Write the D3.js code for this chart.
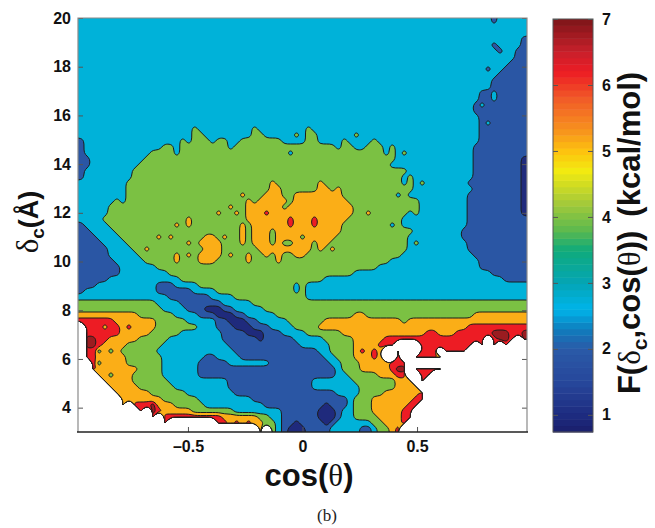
<!DOCTYPE html>
<html>
<head>
<meta charset="utf-8">
<script src="https://cdn.jsdelivr.net/npm/d3@7"></script>
<style>
  html, body { margin: 0; padding: 0; background: #fff; }
  svg { display: block; }
</style>
</head>
<body>
<div id="chart"></div>
<script>
var w = 655, h = 528;

var cosTicks = [-0.5, 0, 0.5];
var deltaTicks = [4, 6, 8, 10, 12, 14, 16, 18, 20];
var barTicks = [1, 2, 3, 4, 5, 6, 7];

// energy band of every contour, and its fill
var bandLevels = [0.5, 1.5, 2.5, 3.5, 4.5, 5.5, 6.5];
var bandColors = ['#1f2a7c', '#2a56a4', '#00b2d9', '#7bc143', '#fbae17', '#ed1c24', '#9b1c20'];

// colorbar colormap
var barValues = [0.74, 1, 1.5, 2, 2.3, 2.6, 3, 3.5, 3.8, 4.2, 4.7, 5, 5.3, 5.8, 6.2, 6.5, 7];
var barColors = ['#1b1f6b', '#1d2c80', '#27479b', '#2a5aa8', '#0f7dbd', '#00b4ea', '#04a5b5', '#10ab7a',
  '#5cb94e', '#a3c93a', '#f2ea10', '#fdc20f', '#f7941d', '#f15a28', '#ed1c24', '#c8202b', '#7d1518'];

// F, one row per delta_c from 20 down to 3, 75 cells each.
// each row is value, end cell, value, end cell... null is the white no-data part
var energyRuns = [
  [3,75],
  [3,75],
  [3,75],
  [3,74,2,75],
  [3,74,2,75],
  [3,73,2,75],
  [3,73,2,75],
  [3,72,2,75],
  [3,71,2,75],
  [3,70,2,75],
  [3,69,2,75],
  [3,69,2,75],
  [3,67,2,69,3,70,2,75],
  [3,67,2,69,3,70,2,75],
  [3,66,2,67,3,68,2,75],
  [3,66,2,75],
  [3,67,2,75],
  [3,67,2,68,3,69,2,75],
  [3,19,4,20,3,29,4,30,3,38,4,39,3,67,2,75],
  [3,19,4,21,3,29,4,31,3,36,4,37,3,38,4,40,3,67,2,75],
  [2,1,3,17,4,18,3,19,4,22,3,23,4,25,3,27,4,34,3,38,4,40,3,44,4,45,3,49,4,50,3,67,2,75],
  [2,1,3,14,4,16,3,17,4,25,3,26,4,43,3,44,4,46,3,48,4,51,3,52,4,53,3,66,2,75],
  [2,1,3,12,4,16,3,17,4,51,3,52,4,53,3,66,2,75],
  [2,2,3,11,4,53,3,66,2,74,1,75],
  [2,2,3,10,4,53,3,66,2,74,1,75],
  [2,1,3,9,4,55,3,66,2,74,1,75],
  [2,1,3,9,4,54,3,55,4,56,3,66,2,74,1,75],
  [3,8,4,32,5,33,4,40,5,41,4,54,3,55,4,56,3,65,2,74,1,75],
  [3,8,4,32,5,34,4,40,5,42,4,43,5,44,4,56,3,66,2,74,1,75],
  [3,8,4,31,5,34,4,36,5,44,4,55,3,65,2,74,1,75],
  [3,8,4,30,5,35,4,36,5,45,4,57,3,65,2,74,1,75],
  [3,5,4,28,5,34,4,35,5,46,4,57,3,65,2,74,1,75],
  [3,5,4,28,5,31,6,32,5,46,4,55,3,65,2,74,1,75],
  [3,4,4,28,5,35,6,36,5,39,6,40,5,45,4,54,3,65,2,75],
  [2,1,3,5,4,29,5,35,6,36,5,39,6,40,5,44,4,54,3,65,2,75],
  [2,2,3,6,4,29,5,32,4,33,5,44,4,56,3,64,2,75],
  [2,3,3,7,4,21,5,23,4,29,5,32,4,33,5,37,4,38,5,43,4,55,3,64,2,75],
  [2,4,3,8,4,20,5,24,4,29,5,32,4,33,5,34,4,36,5,39,4,40,5,42,4,55,3,65,2,75],
  [2,5,3,9,4,21,5,24,4,30,5,39,4,40,5,41,4,42,5,43,4,55,3,65,2,75],
  [2,5,3,10,4,20,5,24,4,33,5,34,4,36,5,38,4,54,3,66,2,75],
  [2,6,3,11,4,20,5,23,4,52,3,67,2,75],
  [2,7,3,13,4,50,3,67,2,75],
  [2,7,3,15,4,46,3,69,2,75],
  [2,5,3,17,4,41,3,71,2,75],
  [2,3,3,13,2,16,3,20,4,36,3,37,4,38,3,75],
  [2,1,3,13,2,19,3,23,4,36,3,37,4,38,3,75],
  [3,15,2,22,3,26,4,38,3,75],
  [4,13,3,17,2,24,3,29,4,75],
  [4,14,3,18,2,21,1,24,2,26,3,31,4,75],
  [5,10,4,16,3,20,2,23,1,26,2,28,3,33,4,46,5,48,4,66,5,75],
  [6,6,5,13,4,18,3,23,2,25,1,28,2,30,3,35,4,41,5,54,4,55,5,75],
  [null,1,6,7,5,13,4,20,3,23,2,26,1,29,2,32,3,36,4,40,5,65,6,75],
  [null,1,6,7,5,12,4,17,3,24,2,28,1,31,2,34,3,38,4,44,5,58,6,60,5,63,6,69,7,72,6,74,7,75],
  [null,1,7,3,6,5,5,10,4,15,3,24,2,30,1,31,2,36,3,41,4,46,5,51,6,68,null,69,6,70,7,72,6,73,null,74,7,75],
  [null,1,7,3,6,4,5,8,4,14,3,25,2,37,3,42,4,46,5,50,6,53,null,57,6,66,null,67,6,68,null,69,6,70,null,71,6,72,null,75],
  [null,1,6,3,5,8,4,13,3,26,2,40,3,42,4,46,5,47,6,48,5,49,6,50,5,51,null,53,6,54,null,57,6,60,null,61,6,65,null,75],
  [null,1,6,3,5,8,4,14,3,21,2,23,3,27,2,41,3,43,4,46,5,49,6,50,5,51,null,53,6,54,null,56,6,60,5,61,null,75],
  [null,2,6,3,5,8,4,14,3,20,2,25,3,32,2,42,3,44,4,47,5,52,6,55,null,75],
  [null,2,6,3,5,10,4,14,3,20,2,43,3,44,4,47,5,52,6,53,7,55,null,56,6,61,null,75],
  [null,3,5,9,4,14,3,20,2,43,3,45,4,50,5,53,6,55,null,57,6,59,null,75],
  [null,4,5,9,4,15,3,25,2,39,3,46,4,53,5,56,null,57,6,58,null,75],
  [null,5,5,10,4,16,3,25,2,39,3,47,4,53,5,57,null,75],
  [null,6,5,12,4,18,3,26,2,43,3,47,4,51,5,57,6,58,null,75],
  [null,7,5,14,4,20,3,29,2,45,3,46,4,49,5,56,6,58,null,75],
  [null,9,6,13,5,16,4,21,3,31,2,41,1,42,2,45,3,46,4,49,5,55,6,57,null,75],
  [null,12,6,14,5,19,4,26,3,34,2,40,1,43,2,44,3,46,4,49,5,54,6,56,null,75],
  [null,14,6,24,5,30,4,32,3,34,2,40,1,43,2,44,3,46,4,50,5,54,6,56,null,75],
  [null,23,6,25,5,26,6,27,5,28,6,29,5,31,4,33,3,34,2,36,1,37,2,41,1,42,2,43,3,49,4,51,5,54,6,55,null,75],
  [null,30,5,31,null,32,4,33,3,34,2,35,1,38,2,42,3,47,2,49,3,50,4,52,5,53,6,54,null,75]
];

// single cells that stick out of the rows above: row, cell, value
var energySpots = [
  [0,69,2],[4,69,2],[5,70,2],[8,68,2],
  [19,46,4],[22,54,4],[27,57,4],[30,6,4],[32,56,4],[37,56,4],
  [22,35,3],[24,52,3],[29,53,3],[34,52,3],
  [29,27,5],[30,28,5],[31,25,5],[32,23,5],[32,26,5],[32,48,5],
  [33,18,5],[34,18,5],[34,16,5],[34,27,5],[35,27,5],[36,27,5],[37,27,5],
  [36,13,5],[36,15,5],[36,24,5],[37,18,5],[38,11,5],
  [39,16,5],[40,16,5],[39,18,5],[39,25,5],[39,28,5],[40,28,5],[39,31,5],[40,33,5],
  [55,3,4],[55,5,4],[55,7,4],[57,3,4],[59,5,4],
  [51,4,5],[51,8,6],
  [64,7,5],[65,10,6],[66,12,6],[67,14,6],[64,12,7],[65,12,7]
];

var nCols = 75, nRows = energyRuns.length;

// expand the runs, with one repeated cell all round so the outer contour falls outside the axes
function buildGrid() {
  var rows = energyRuns.map(function(run) {
    var row = [], start = 0;
    for (var i = 0; i < run.length; i += 2) {
      for (var c = start; c < run[i + 1]; c++) row.push(run[i]);
      start = run[i + 1];
    }
    return row;
  });
  energySpots.forEach(function(s) { rows[s[0]][s[1]] = s[2]; });
  rows = [rows[0]].concat(rows, [rows[nRows - 1]]);
  var values = [];
  rows.forEach(function(row) {
    values.push(row[0]);
    row.forEach(function(v) { values.push(v); });
    values.push(row[nCols - 1]);
  });
  return values;
}

var svg = d3.select('#chart').append('svg')
  .attr('width', w)
  .attr('height', h)
  .attr('font-family', '"Liberation Sans", Arial, sans-serif');

var serif = '"Liberation Serif", serif';

var plot = {left: 78, right: 527, top: 18, bottom: 432};

var x = d3.scaleLinear().domain([-0.98, 0.98]).range([plot.left, plot.right]);
var y = d3.scaleLinear().domain([3, 20]).range([plot.bottom, plot.top]);

// grid cell index to data units
var cellToCos = d3.scaleLinear().domain([1, nCols + 1]).range([-0.98, 0.98]);
var cellToDelta = d3.scaleLinear().domain([1, nRows + 1]).range([20, 3]);

var contours = d3.contours()
  .size([nCols + 2, nRows + 2])
  .thresholds(bandLevels)(buildGrid());

// the raw outline steps from cell to cell, so round the rings off
var ringLine = d3.line()
  .x(function(p) { return x(cellToCos(p[0])); })
  .y(function(p) { return y(cellToDelta(p[1])); })
  .curve(d3.curveBasisClosed);

function contourPath(d) {
  return d.coordinates.map(function(polygon) {
    return polygon.map(function(ring) { return ringLine(ring.slice(1)); }).join('');
  }).join('');
}

svg.append('clipPath').attr('id', 'plotclip')
  .append('rect')
  .attr('x', plot.left).attr('y', plot.top)
  .attr('width', plot.right - plot.left)
  .attr('height', plot.bottom - plot.top);

svg.append('g')
  .attr('clip-path', 'url(#plotclip)')
  .selectAll('path')
  .data(contours)
  .enter().append('path')
  .attr('d', contourPath)
  .attr('fill', function(d, i) { return bandColors[i]; })
  .attr('fill-rule', 'evenodd')
  .attr('stroke', '#1c1c1c')
  .attr('stroke-width', 1)
  .attr('stroke-linejoin', 'round');

// axes
var xAxis = d3.axisBottom(x).tickValues(cosTicks).tickSize(-5).tickPadding(9)
  .tickFormat(function(d) { return d < 0 ? '\u2013' + Math.abs(d) : d; });
var yAxis = d3.axisLeft(y).tickValues(deltaTicks).tickSize(-5).tickPadding(7);
var yAxisRight = d3.axisRight(y).tickValues(deltaTicks).tickSize(-5).tickFormat('');

function styleAxis(g) {
  g.selectAll('.domain').remove();
  g.selectAll('line').attr('stroke', '#555');
  g.selectAll('text')
    .attr('font-size', 16)
    .attr('font-weight', 'bold')
    .attr('fill', '#111');
}

svg.append('g').attr('transform', 'translate(0,' + plot.bottom + ')').call(xAxis).call(styleAxis);
svg.append('g').attr('transform', 'translate(' + plot.left + ',0)').call(yAxis).call(styleAxis);
svg.append('g').attr('transform', 'translate(' + plot.right + ',0)').call(yAxisRight).call(styleAxis);

svg.append('path')
  .attr('d', 'M' + plot.left + ',' + plot.bottom + 'V' + plot.top + 'H' + plot.right + 'V' + plot.bottom)
  .attr('fill', 'none')
  .attr('stroke', '#8a8a8a')
  .attr('stroke-width', 1.2);
svg.append('line')
  .attr('x1', plot.left - 1).attr('x2', plot.right + 1)
  .attr('y1', plot.bottom).attr('y2', plot.bottom)
  .attr('stroke', '#222')
  .attr('stroke-width', 1.6);

// colorbar
var bar = {left: 553, right: 593, top: 19, bottom: 432};
var barY = d3.scaleLinear().domain([0.74, 7]).range([bar.bottom, bar.top]);
var barColor = d3.scaleLinear().domain(barValues).range(barColors);
var barStep = (7 - 0.74) / 64;

svg.append('g').selectAll('rect')
  .data(d3.range(64))
  .enter().append('rect')
  .attr('x', bar.left)
  .attr('width', bar.right - bar.left)
  .attr('y', function(i) { return barY(0.74 + (i + 1) * barStep); })
  .attr('height', function(i) { return barY(0.74 + i * barStep) - barY(0.74 + (i + 1) * barStep) + 0.5; })
  .attr('fill', function(i) { return barColor(0.74 + (i + 0.5) * barStep); });

var barAxis = d3.axisRight(barY).tickValues(barTicks).tickSize(-5).tickPadding(9).tickFormat(d3.format('d'));
svg.append('g').attr('transform', 'translate(' + bar.right + ',0)').call(barAxis).call(styleAxis);
svg.append('g').attr('transform', 'translate(' + bar.left + ',0)')
  .call(d3.axisLeft(barY).tickValues(barTicks).tickSize(-5).tickFormat(''))
  .call(styleAxis);

svg.append('rect')
  .attr('x', bar.left).attr('y', bar.top)
  .attr('width', bar.right - bar.left)
  .attr('height', bar.bottom - bar.top)
  .attr('fill', 'none')
  .attr('stroke', '#555')
  .attr('stroke-width', 1);

// titles
var xTitle = svg.append('text')
  .attr('x', 309).attr('y', 486)
  .attr('text-anchor', 'middle')
  .attr('font-size', 31)
  .attr('font-weight', 'bold')
  .attr('fill', '#111');
xTitle.append('tspan').text('cos(');
xTitle.append('tspan').attr('font-family', serif).attr('font-weight', 'normal').text('\u03b8');
xTitle.append('tspan').text(')');

var yTitle = svg.append('text')
  .attr('transform', 'translate(38,222) rotate(-90)')
  .attr('text-anchor', 'middle')
  .attr('font-size', 27)
  .attr('font-weight', 'bold')
  .attr('fill', '#111');
yTitle.append('tspan').attr('font-family', serif).attr('font-weight', 'normal').attr('font-size', 31).text('\u03b4');
yTitle.append('tspan').attr('font-size', 19).attr('dy', 6).text('c');
yTitle.append('tspan').attr('dy', -6).text('(\u00c5)');

var barTitle = svg.append('text')
  .attr('transform', 'translate(640,233) rotate(-90)')
  .attr('text-anchor', 'middle')
  .attr('font-size', 31)
  .attr('font-weight', 'bold')
  .attr('fill', '#111');
barTitle.append('tspan').text('F(');
barTitle.append('tspan').attr('font-family', serif).attr('font-weight', 'normal').text('\u03b4');
barTitle.append('tspan').attr('font-size', 21).attr('dy', 7).text('c');
barTitle.append('tspan').attr('dy', -7).text(',cos(');
barTitle.append('tspan').attr('font-family', serif).attr('font-weight', 'normal').text('\u03b8');
barTitle.append('tspan').text('))');
barTitle.append('tspan').attr('dx', 14).text('(kcal/mol)');

svg.append('text')
  .attr('x', 327).attr('y', 521)
  .attr('text-anchor', 'middle')
  .attr('font-family', serif)
  .attr('font-size', 17)
  .attr('fill', '#222')
  .text('(b)');
</script>
</body>
</html>
